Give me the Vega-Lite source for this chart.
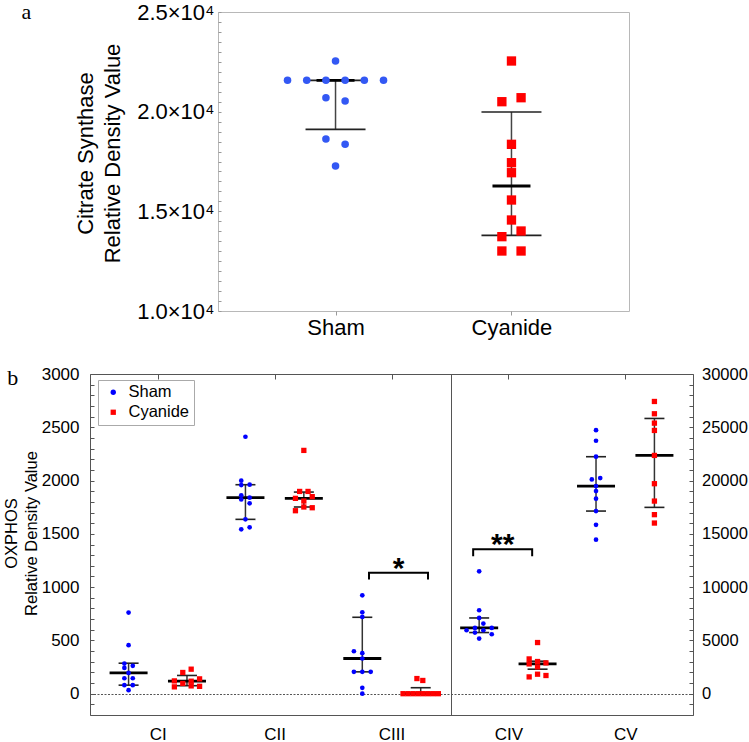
{
  "$schema": "https://vega.github.io/schema/vega-lite/v6.json",
  "padding": {"left": 2, "top": 0, "right": 0, "bottom": 0},
  "spacing": 25,
  "config": {
    "font": "Liberation Sans",
    "view": {"stroke": null},
    "axis": {"labelColor": "black", "titleColor": "black", "titleFontWeight": "normal", "grid": false, "domain": false, "labelOverlap": false, "labelFlush": false},
    "legend": {"orient": "none", "legendX": 8, "legendY": 6, "strokeColor": "#aaaaaa", "fillColor": "white", "padding": 4, "symbolOffset": 3, "labelOffset": 7, "labelFontSize": 16.5, "labelColor": "black", "rowPadding": 3, "symbolSize": 28, "symbolStrokeWidth": 0}
  },
  "resolve": {"scale": {"color": "independent", "shape": "independent"}},
  "datasets": {
    "cs": [
      {"group": "Sham", "v": 22542, "j": 0},
      {"group": "Sham", "v": 21573, "j": -5},
      {"group": "Sham", "v": 21573, "j": -3},
      {"group": "Sham", "v": 21573, "j": -1},
      {"group": "Sham", "v": 21573, "j": 1},
      {"group": "Sham", "v": 21573, "j": 3},
      {"group": "Sham", "v": 21573, "j": 5},
      {"group": "Sham", "v": 20700, "j": -1},
      {"group": "Sham", "v": 20535, "j": 1},
      {"group": "Sham", "v": 18628, "j": -1},
      {"group": "Sham", "v": 18362, "j": 1},
      {"group": "Sham", "v": 17274, "j": 0},
      {"group": "Cyanide", "v": 22542, "j": 0},
      {"group": "Cyanide", "v": 20500, "j": -1},
      {"group": "Cyanide", "v": 20700, "j": 1},
      {"group": "Cyanide", "v": 18362, "j": 0},
      {"group": "Cyanide", "v": 17440, "j": 0},
      {"group": "Cyanide", "v": 16938, "j": 0},
      {"group": "Cyanide", "v": 15568, "j": 0},
      {"group": "Cyanide", "v": 14565, "j": 0},
      {"group": "Cyanide", "v": 14013, "j": 1},
      {"group": "Cyanide", "v": 13729, "j": -1},
      {"group": "Cyanide", "v": 13010, "j": -1},
      {"group": "Cyanide", "v": 13010, "j": 1}
    ],
    "csstats": [
      {"group": "Sham", "med": 21573, "lo": 19115, "hi": 21573},
      {"group": "Cyanide", "med": 16270, "lo": 13797, "hi": 19983}
    ],
    "ox": [
      {"cat": "CI", "group": "Sham", "v": 761, "j": 0},
      {"cat": "CI", "group": "Sham", "v": 455, "j": 0},
      {"cat": "CI", "group": "Sham", "v": 283, "j": -1},
      {"cat": "CI", "group": "Sham", "v": 261, "j": 1},
      {"cat": "CI", "group": "Sham", "v": 242, "j": -1},
      {"cat": "CI", "group": "Sham", "v": 195, "j": 0},
      {"cat": "CI", "group": "Sham", "v": 145, "j": -1},
      {"cat": "CI", "group": "Sham", "v": 145, "j": 1},
      {"cat": "CI", "group": "Sham", "v": 80, "j": -1},
      {"cat": "CI", "group": "Sham", "v": 80, "j": 1},
      {"cat": "CI", "group": "Sham", "v": 33, "j": 0},
      {"cat": "CI", "group": "Cyanide", "v": 230, "j": 1},
      {"cat": "CI", "group": "Cyanide", "v": 199, "j": -1},
      {"cat": "CI", "group": "Cyanide", "v": 139, "j": 3},
      {"cat": "CI", "group": "Cyanide", "v": 120, "j": -3},
      {"cat": "CI", "group": "Cyanide", "v": 117, "j": 1},
      {"cat": "CI", "group": "Cyanide", "v": 96, "j": -1},
      {"cat": "CI", "group": "Cyanide", "v": 73, "j": 1},
      {"cat": "CI", "group": "Cyanide", "v": 69, "j": 3},
      {"cat": "CI", "group": "Cyanide", "v": 64, "j": -3},
      {"cat": "CII", "group": "Sham", "v": 2411, "j": 0},
      {"cat": "CII", "group": "Sham", "v": 1999, "j": -1},
      {"cat": "CII", "group": "Sham", "v": 1961, "j": 1},
      {"cat": "CII", "group": "Sham", "v": 1958, "j": -1},
      {"cat": "CII", "group": "Sham", "v": 1861, "j": -1},
      {"cat": "CII", "group": "Sham", "v": 1839, "j": 1},
      {"cat": "CII", "group": "Sham", "v": 1823, "j": -1},
      {"cat": "CII", "group": "Sham", "v": 1786, "j": 1},
      {"cat": "CII", "group": "Sham", "v": 1636, "j": 0},
      {"cat": "CII", "group": "Sham", "v": 1542, "j": -1},
      {"cat": "CII", "group": "Sham", "v": 1561, "j": 1},
      {"cat": "CII", "group": "Cyanide", "v": 2283, "j": 0},
      {"cat": "CII", "group": "Cyanide", "v": 1898, "j": -1},
      {"cat": "CII", "group": "Cyanide", "v": 1898, "j": 1},
      {"cat": "CII", "group": "Cyanide", "v": 1849, "j": 2},
      {"cat": "CII", "group": "Cyanide", "v": 1833, "j": -2},
      {"cat": "CII", "group": "Cyanide", "v": 1808, "j": 0},
      {"cat": "CII", "group": "Cyanide", "v": 1752, "j": 0},
      {"cat": "CII", "group": "Cyanide", "v": 1745, "j": 2},
      {"cat": "CII", "group": "Cyanide", "v": 1717, "j": -2},
      {"cat": "CIII", "group": "Sham", "v": 923, "j": 0},
      {"cat": "CIII", "group": "Sham", "v": 764, "j": 0},
      {"cat": "CIII", "group": "Sham", "v": 720, "j": 0},
      {"cat": "CIII", "group": "Sham", "v": 398, "j": -2},
      {"cat": "CIII", "group": "Sham", "v": 380, "j": 0},
      {"cat": "CIII", "group": "Sham", "v": 330, "j": 0},
      {"cat": "CIII", "group": "Sham", "v": 205, "j": -2},
      {"cat": "CIII", "group": "Sham", "v": 205, "j": 0},
      {"cat": "CIII", "group": "Sham", "v": 205, "j": 2},
      {"cat": "CIII", "group": "Sham", "v": 55, "j": 0},
      {"cat": "CIII", "group": "Sham", "v": 0, "j": 0},
      {"cat": "CIII", "group": "Cyanide", "v": 142, "j": -0.9},
      {"cat": "CIII", "group": "Cyanide", "v": 124, "j": 0.5},
      {"cat": "CIII", "group": "Cyanide", "v": 0, "j": -4.2},
      {"cat": "CIII", "group": "Cyanide", "v": 0, "j": -3},
      {"cat": "CIII", "group": "Cyanide", "v": 0, "j": -1.8},
      {"cat": "CIII", "group": "Cyanide", "v": 0, "j": -0.6},
      {"cat": "CIII", "group": "Cyanide", "v": 0, "j": 0.6},
      {"cat": "CIII", "group": "Cyanide", "v": 0, "j": 1.8},
      {"cat": "CIII", "group": "Cyanide", "v": 0, "j": 3},
      {"cat": "CIII", "group": "Cyanide", "v": 0, "j": 4.2},
      {"cat": "CIV", "group": "Sham", "v": 11484, "j": 0},
      {"cat": "CIV", "group": "Sham", "v": 7828, "j": 0},
      {"cat": "CIV", "group": "Sham", "v": 7106, "j": 0},
      {"cat": "CIV", "group": "Sham", "v": 6581, "j": 1},
      {"cat": "CIV", "group": "Sham", "v": 6169, "j": -1},
      {"cat": "CIV", "group": "Sham", "v": 6169, "j": 3},
      {"cat": "CIV", "group": "Sham", "v": 5953, "j": -3},
      {"cat": "CIV", "group": "Sham", "v": 5953, "j": 1},
      {"cat": "CIV", "group": "Sham", "v": 5738, "j": -1},
      {"cat": "CIV", "group": "Sham", "v": 5578, "j": 3},
      {"cat": "CIV", "group": "Sham", "v": 5175, "j": 0},
      {"cat": "CIV", "group": "Cyanide", "v": 4800, "j": 0},
      {"cat": "CIV", "group": "Cyanide", "v": 3262, "j": -2},
      {"cat": "CIV", "group": "Cyanide", "v": 3019, "j": 0},
      {"cat": "CIV", "group": "Cyanide", "v": 2888, "j": 2},
      {"cat": "CIV", "group": "Cyanide", "v": 2794, "j": -2},
      {"cat": "CIV", "group": "Cyanide", "v": 2513, "j": 0},
      {"cat": "CIV", "group": "Cyanide", "v": 1828, "j": 0},
      {"cat": "CIV", "group": "Cyanide", "v": 1575, "j": -2},
      {"cat": "CIV", "group": "Cyanide", "v": 1706, "j": 2},
      {"cat": "CV", "group": "Sham", "v": 24731, "j": 0},
      {"cat": "CV", "group": "Sham", "v": 23738, "j": 0},
      {"cat": "CV", "group": "Sham", "v": 22238, "j": 0},
      {"cat": "CV", "group": "Sham", "v": 20109, "j": -1},
      {"cat": "CV", "group": "Sham", "v": 20231, "j": 1},
      {"cat": "CV", "group": "Sham", "v": 19481, "j": 0},
      {"cat": "CV", "group": "Sham", "v": 19013, "j": 0},
      {"cat": "CV", "group": "Sham", "v": 18300, "j": 0},
      {"cat": "CV", "group": "Sham", "v": 17138, "j": 0},
      {"cat": "CV", "group": "Sham", "v": 15850, "j": 0},
      {"cat": "CV", "group": "Sham", "v": 14456, "j": 0},
      {"cat": "CV", "group": "Cyanide", "v": 27422, "j": 0},
      {"cat": "CV", "group": "Cyanide", "v": 26269, "j": 0},
      {"cat": "CV", "group": "Cyanide", "v": 25388, "j": 0},
      {"cat": "CV", "group": "Cyanide", "v": 24703, "j": 0},
      {"cat": "CV", "group": "Cyanide", "v": 22359, "j": 0},
      {"cat": "CV", "group": "Cyanide", "v": 19706, "j": 0},
      {"cat": "CV", "group": "Cyanide", "v": 18075, "j": 0},
      {"cat": "CV", "group": "Cyanide", "v": 16800, "j": 0},
      {"cat": "CV", "group": "Cyanide", "v": 16013, "j": 0}
    ],
    "oxstats": [
      {"cat": "CI", "group": "Sham", "med": 195, "lo": 80, "hi": 286},
      {"cat": "CI", "group": "Cyanide", "med": 117, "lo": 75, "hi": 171},
      {"cat": "CII", "group": "Sham", "med": 1839, "lo": 1636, "hi": 1961},
      {"cat": "CII", "group": "Cyanide", "med": 1833, "lo": 1752, "hi": 1892},
      {"cat": "CIII", "group": "Sham", "med": 330, "lo": 205, "hi": 717},
      {"cat": "CIII", "group": "Cyanide", "med": 0, "lo": 0, "hi": 56},
      {"cat": "CIV", "group": "Sham", "med": 6169, "lo": 5738, "hi": 7106},
      {"cat": "CIV", "group": "Cyanide", "med": 2794, "lo": 2300, "hi": 3050},
      {"cat": "CV", "group": "Sham", "med": 19481, "lo": 17138, "hi": 22238},
      {"cat": "CV", "group": "Cyanide", "med": 22359, "lo": 17484, "hi": 25828}
    ],
    "sig": [
      {"cat": "CIII", "y": 1136, "label": "*"},
      {"cat": "CIV", "y": 13547, "label": "**"}
    ],
    "ref": [
      {"cat": "CIII"}
    ],
    "none": []
  },
  "vconcat": [
    {
      "spacing": -17,
      "hconcat": [
        {
          "width": 1,
          "height": 299,
          "data": {"name": "none"},
          "mark": {"type": "point"},
          "title": {"text": "a", "orient": "left", "anchor": "end", "angle": 0, "font": "Liberation Serif", "fontSize": 22, "fontWeight": "normal", "align": "right", "baseline": "alphabetic", "offset": 49, "dy": 7, "color": "black"}
        },
        {
          "width": 411,
          "height": 299,
          "view": {"stroke": "#b8b8b8"},
          "encoding": {
            "x": {"field": "group", "type": "nominal", "scale": {"type": "point", "domain": ["Sham", "Cyanide"], "padding": 0.668},
              "axis": {"title": null, "labelFontSize": 22, "labelAngle": 0, "labelAlign": "center", "tickSize": 4, "tickColor": "#999999", "labelPadding": 2}}
          },
          "layer": [
            {
              "data": {"name": "csstats"},
              "mark": {"type": "rule", "color": "#444444", "strokeWidth": 1.5},
              "encoding": {
                "y": {"field": "lo", "type": "quantitative", "scale": {"domain": [10000, 25000], "nice": false, "zero": false},
                  "axis": {"orient": "left", "title": ["Citrate Synthase", "Relative Density Value"], "titleFontSize": 22, "titleLineHeight": 27, "titlePadding": 12, "titleY": 141,
                    "labelFontSize": 22, "ticks": false, "labelPadding": 4, "values": [10000, 15000, 20000, 25000],
                    "labelExpr": "format(datum.value / 10000, '.1f') + '×10⁴'"}},
                "y2": {"field": "hi"}
              }
            },
            {
              "data": {"name": "csstats"},
              "transform": [{"fold": ["lo", "hi"], "as": ["which", "val"]}],
              "mark": {"type": "point", "shape": "M-1,0H1", "size": 3600, "filled": false, "color": "#222222", "strokeWidth": 1.7, "opacity": 1},
              "encoding": {"y": {"field": "val", "type": "quantitative", "scale": {"domain": [10000, 25000], "nice": false, "zero": false},
                "axis": {"orient": "left", "title": null, "labels": false, "ticks": false, "grid": true, "gridDash": [3, 1000], "gridColor": "#999999", "gridWidth": 1,
                  "values": [10000, 10500, 11000, 11500, 12000, 12500, 13000, 13500, 14000, 14500, 15000, 15500, 16000, 16500, 17000, 17500, 18000, 18500, 19000, 19500, 20000, 20500, 21000, 21500, 22000, 22500, 23000, 23500, 24000, 24500, 25000]}}}
            },
            {
              "data": {"name": "csstats"},
              "mark": {"type": "point", "shape": "M-1,0H1", "size": 1444, "filled": false, "color": "black", "strokeWidth": 2.8, "opacity": 1},
              "encoding": {"y": {"field": "med", "type": "quantitative", "scale": {"domain": [10000, 25000], "nice": false, "zero": false}, "axis": null}}
            },
            {
              "data": {"name": "cs"},
              "transform": [{"filter": {"field": "group", "equal": "Sham"}}],
              "mark": {"type": "point", "shape": "circle", "filled": true, "size": 57, "color": "#3358f4", "opacity": 1, "strokeWidth": 0},
              "encoding": {
                "y": {"field": "v", "type": "quantitative", "scale": {"domain": [10000, 25000], "nice": false, "zero": false}, "axis": null},
                "xOffset": {"field": "j", "type": "quantitative", "scale": {"domain": [-5, 5], "range": [-48, 48]}}
              }
            },
            {
              "data": {"name": "cs"},
              "transform": [{"filter": {"field": "group", "equal": "Cyanide"}}],
              "mark": {"type": "point", "shape": "square", "filled": true, "size": 87, "color": "#ff0000", "opacity": 1, "strokeWidth": 0},
              "encoding": {
                "y": {"field": "v", "type": "quantitative", "scale": {"domain": [10000, 25000], "nice": false, "zero": false}, "axis": null},
                "xOffset": {"field": "j", "type": "quantitative", "scale": {"domain": [-5, 5], "range": [-48, 48]}}
              }
            }
          ],
          "resolve": {"scale": {"y": "independent"}}
        }
      ]
    },
    {
      "width": 603,
      "height": 341,
      "view": {"stroke": "#555555"},
      "title": {"text": "b", "orient": "top", "anchor": "start", "frame": "bounds", "font": "Liberation Serif", "fontSize": 22, "fontWeight": "normal", "offset": -25, "dx": 4, "color": "black"},
      "encoding": {
        "x": {"field": "cat", "type": "nominal", "scale": {"type": "point", "domain": ["CI", "CII", "CIII", "CIV", "CV"], "padding": 0.58},
          "axis": {"title": null, "labelFontSize": 17, "labelAngle": 0, "labelAlign": "center", "ticks": false, "grid": true, "gridDash": [5, 1000], "gridColor": "#555555", "labelPadding": 11}}
      },
      "layer": [
        {
          "data": {"name": "ref"},
          "mark": {"type": "rule", "color": "#555555", "strokeWidth": 1, "xOffset": 60}
        },
        {
          "data": {"name": "oxstats"},
          "transform": [{"filter": {"field": "cat", "oneOf": ["CI", "CII", "CIII"]}}, {"filter": {"field": "group", "equal": "Sham"}}],
          "mark": {"type": "rule", "color": "#333333", "strokeWidth": 1.5, "xOffset": -29.2},
          "encoding": {
            "y": {"field": "lo", "type": "quantitative", "scale": {"domain": [-200, 3000], "nice": false, "zero": false},
              "axis": {"orient": "left", "title": ["OXPHOS", "Relative Density Value"], "titleFontSize": 16.5, "titleLineHeight": 20, "titlePadding": 2, "titleY": 159,
                "labelFontSize": 17, "ticks": false, "labelPadding": 11, "values": [0, 500, 1000, 1500, 2000, 2500, 3000], "format": "d"}},
            "y2": {"field": "hi"}
          }
        },
        {
          "data": {"name": "oxstats"},
          "transform": [{"filter": {"field": "cat", "oneOf": ["CI", "CII", "CIII"]}}, {"filter": {"field": "group", "equal": "Cyanide"}}],
          "mark": {"type": "rule", "color": "#333333", "strokeWidth": 1.5, "xOffset": 29.2},
          "encoding": {
            "y": {"field": "lo", "type": "quantitative", "scale": {"domain": [-200, 3000], "nice": false, "zero": false},
              "axis": {"orient": "left", "title": null, "labels": false, "ticks": false, "grid": true, "gridDash": [4, 1000], "gridColor": "#555555", "gridWidth": 1,
                "values": [-200, -100, 0, 100, 200, 300, 400, 500, 600, 700, 800, 900, 1000, 1100, 1200, 1300, 1400, 1500, 1600, 1700, 1800, 1900, 2000, 2100, 2200, 2300, 2400, 2500, 2600, 2700, 2800, 2900, 3000]}},
            "y2": {"field": "hi"}
          }
        },
        {
          "data": {"name": "oxstats"},
          "transform": [{"filter": {"field": "cat", "oneOf": ["CI", "CII", "CIII"]}}, {"filter": {"field": "group", "equal": "Sham"}}, {"fold": ["lo", "hi"], "as": ["which", "val"]}],
          "mark": {"type": "point", "shape": "M-1,0H1", "size": 400, "filled": false, "color": "#222222", "strokeWidth": 1.6, "opacity": 1, "xOffset": -29.2},
          "encoding": {"y": {"field": "val", "type": "quantitative", "scale": {"domain": [-200, 3000], "nice": false, "zero": false},
            "axis": {"orient": "left", "title": null, "labels": false, "ticks": false, "grid": true, "gridDash": [2, 1.5], "gridColor": "#555555", "gridWidth": 1.2, "values": [0]}}}
        },
        {
          "data": {"name": "oxstats"},
          "transform": [{"filter": {"field": "cat", "oneOf": ["CI", "CII", "CIII"]}}, {"filter": {"field": "group", "equal": "Cyanide"}}, {"fold": ["lo", "hi"], "as": ["which", "val"]}],
          "mark": {"type": "point", "shape": "M-1,0H1", "size": 400, "filled": false, "color": "#222222", "strokeWidth": 1.6, "opacity": 1, "xOffset": 29.2},
          "encoding": {"y": {"field": "val", "type": "quantitative", "scale": {"domain": [-200, 3000], "nice": false, "zero": false}, "axis": null}}
        },
        {
          "data": {"name": "oxstats"},
          "transform": [{"filter": {"field": "cat", "oneOf": ["CI", "CII", "CIII"]}}, {"filter": {"field": "group", "equal": "Sham"}}],
          "mark": {"type": "point", "shape": "M-1,0H1", "size": 1444, "filled": false, "color": "black", "strokeWidth": 2.8, "opacity": 1, "xOffset": -29.2},
          "encoding": {"y": {"field": "med", "type": "quantitative", "scale": {"domain": [-200, 3000], "nice": false, "zero": false}, "axis": null}}
        },
        {
          "data": {"name": "oxstats"},
          "transform": [{"filter": {"field": "cat", "oneOf": ["CI", "CII", "CIII"]}}, {"filter": {"field": "group", "equal": "Cyanide"}}],
          "mark": {"type": "point", "shape": "M-1,0H1", "size": 1444, "filled": false, "color": "black", "strokeWidth": 2.8, "opacity": 1, "xOffset": 29.2},
          "encoding": {"y": {"field": "med", "type": "quantitative", "scale": {"domain": [-200, 3000], "nice": false, "zero": false}, "axis": null}}
        },
        {
          "data": {"name": "ox"},
          "transform": [{"filter": {"field": "cat", "oneOf": ["CI", "CII", "CIII"]}}, {"filter": {"field": "group", "equal": "Sham"}}],
          "mark": {"type": "point", "filled": true, "size": 22, "opacity": 1, "strokeWidth": 0},
          "encoding": {
            "y": {"field": "v", "type": "quantitative", "scale": {"domain": [-200, 3000], "nice": false, "zero": false}, "axis": null},
            "xOffset": {"field": "j", "type": "quantitative", "scale": {"domain": [-5, 5], "range": [-50.2, -8.2]}},
            "color": {"field": "group", "type": "nominal", "scale": {"domain": ["Sham", "Cyanide"], "range": ["#0000ff", "#ff0000"]}, "legend": {"title": null}},
            "shape": {"field": "group", "type": "nominal", "scale": {"domain": ["Sham", "Cyanide"], "range": ["circle", "square"]}, "legend": {"title": null}}
          }
        },
        {
          "data": {"name": "ox"},
          "transform": [{"filter": {"field": "cat", "oneOf": ["CI", "CII", "CIII"]}}, {"filter": {"field": "group", "equal": "Cyanide"}}],
          "mark": {"type": "point", "filled": true, "size": 28, "opacity": 1, "strokeWidth": 0},
          "encoding": {
            "y": {"field": "v", "type": "quantitative", "scale": {"domain": [-200, 3000], "nice": false, "zero": false}, "axis": null},
            "xOffset": {"field": "j", "type": "quantitative", "scale": {"domain": [-5, 5], "range": [8.2, 50.2]}},
            "color": {"field": "group", "type": "nominal", "scale": {"domain": ["Sham", "Cyanide"], "range": ["#0000ff", "#ff0000"]}, "legend": {"title": null}},
            "shape": {"field": "group", "type": "nominal", "scale": {"domain": ["Sham", "Cyanide"], "range": ["circle", "square"]}, "legend": {"title": null}}
          }
        },
        {
          "data": {"name": "oxstats"},
          "transform": [{"filter": {"field": "cat", "oneOf": ["CIV", "CV"]}}, {"filter": {"field": "group", "equal": "Sham"}}],
          "mark": {"type": "rule", "color": "#333333", "strokeWidth": 1.5, "xOffset": -29.2},
          "encoding": {
            "y": {"field": "lo", "type": "quantitative", "scale": {"domain": [-2000, 30000], "nice": false, "zero": false},
              "axis": {"orient": "right", "title": null, "labelFontSize": 16.5, "ticks": false, "labelPadding": 8.5, "values": [0, 5000, 10000, 15000, 20000, 25000, 30000], "format": "d"}},
            "y2": {"field": "hi"}
          }
        },
        {
          "data": {"name": "oxstats"},
          "transform": [{"filter": {"field": "cat", "oneOf": ["CIV", "CV"]}}, {"filter": {"field": "group", "equal": "Cyanide"}}],
          "mark": {"type": "rule", "color": "#333333", "strokeWidth": 1.5, "xOffset": 29.2},
          "encoding": {
            "y": {"field": "lo", "type": "quantitative", "scale": {"domain": [-2000, 30000], "nice": false, "zero": false},
              "axis": {"orient": "right", "title": null, "labels": false, "ticks": false, "grid": true, "gridDash": [4, 1000], "gridColor": "#555555", "gridWidth": 1,
                "values": [-2000, -1000, 0, 1000, 2000, 3000, 4000, 5000, 6000, 7000, 8000, 9000, 10000, 11000, 12000, 13000, 14000, 15000, 16000, 17000, 18000, 19000, 20000, 21000, 22000, 23000, 24000, 25000, 26000, 27000, 28000, 29000, 30000]}},
            "y2": {"field": "hi"}
          }
        },
        {
          "data": {"name": "oxstats"},
          "transform": [{"filter": {"field": "cat", "oneOf": ["CIV", "CV"]}}, {"filter": {"field": "group", "equal": "Sham"}}, {"fold": ["lo", "hi"], "as": ["which", "val"]}],
          "mark": {"type": "point", "shape": "M-1,0H1", "size": 400, "filled": false, "color": "#222222", "strokeWidth": 1.6, "opacity": 1, "xOffset": -29.2},
          "encoding": {"y": {"field": "val", "type": "quantitative", "scale": {"domain": [-2000, 30000], "nice": false, "zero": false}, "axis": null}}
        },
        {
          "data": {"name": "oxstats"},
          "transform": [{"filter": {"field": "cat", "oneOf": ["CIV", "CV"]}}, {"filter": {"field": "group", "equal": "Cyanide"}}, {"fold": ["lo", "hi"], "as": ["which", "val"]}],
          "mark": {"type": "point", "shape": "M-1,0H1", "size": 400, "filled": false, "color": "#222222", "strokeWidth": 1.6, "opacity": 1, "xOffset": 29.2},
          "encoding": {"y": {"field": "val", "type": "quantitative", "scale": {"domain": [-2000, 30000], "nice": false, "zero": false}, "axis": null}}
        },
        {
          "data": {"name": "oxstats"},
          "transform": [{"filter": {"field": "cat", "oneOf": ["CIV", "CV"]}}, {"filter": {"field": "group", "equal": "Sham"}}],
          "mark": {"type": "point", "shape": "M-1,0H1", "size": 1444, "filled": false, "color": "black", "strokeWidth": 2.8, "opacity": 1, "xOffset": -29.2},
          "encoding": {"y": {"field": "med", "type": "quantitative", "scale": {"domain": [-2000, 30000], "nice": false, "zero": false}, "axis": null}}
        },
        {
          "data": {"name": "oxstats"},
          "transform": [{"filter": {"field": "cat", "oneOf": ["CIV", "CV"]}}, {"filter": {"field": "group", "equal": "Cyanide"}}],
          "mark": {"type": "point", "shape": "M-1,0H1", "size": 1444, "filled": false, "color": "black", "strokeWidth": 2.8, "opacity": 1, "xOffset": 29.2},
          "encoding": {"y": {"field": "med", "type": "quantitative", "scale": {"domain": [-2000, 30000], "nice": false, "zero": false}, "axis": null}}
        },
        {
          "data": {"name": "ox"},
          "transform": [{"filter": {"field": "cat", "oneOf": ["CIV", "CV"]}}, {"filter": {"field": "group", "equal": "Sham"}}],
          "mark": {"type": "point", "filled": true, "size": 22, "opacity": 1, "strokeWidth": 0},
          "encoding": {
            "y": {"field": "v", "type": "quantitative", "scale": {"domain": [-2000, 30000], "nice": false, "zero": false}, "axis": null},
            "xOffset": {"field": "j", "type": "quantitative", "scale": {"domain": [-5, 5], "range": [-50.2, -8.2]}},
            "color": {"field": "group", "type": "nominal", "scale": {"domain": ["Sham", "Cyanide"], "range": ["#0000ff", "#ff0000"]}, "legend": {"title": null}},
            "shape": {"field": "group", "type": "nominal", "scale": {"domain": ["Sham", "Cyanide"], "range": ["circle", "square"]}, "legend": {"title": null}}
          }
        },
        {
          "data": {"name": "ox"},
          "transform": [{"filter": {"field": "cat", "oneOf": ["CIV", "CV"]}}, {"filter": {"field": "group", "equal": "Cyanide"}}],
          "mark": {"type": "point", "filled": true, "size": 28, "opacity": 1, "strokeWidth": 0},
          "encoding": {
            "y": {"field": "v", "type": "quantitative", "scale": {"domain": [-2000, 30000], "nice": false, "zero": false}, "axis": null},
            "xOffset": {"field": "j", "type": "quantitative", "scale": {"domain": [-5, 5], "range": [8.2, 50.2]}},
            "color": {"field": "group", "type": "nominal", "scale": {"domain": ["Sham", "Cyanide"], "range": ["#0000ff", "#ff0000"]}, "legend": {"title": null}},
            "shape": {"field": "group", "type": "nominal", "scale": {"domain": ["Sham", "Cyanide"], "range": ["circle", "square"]}, "legend": {"title": null}}
          }
        },
        {
          "data": {"name": "sig"},
          "transform": [{"filter": {"field": "cat", "equal": "CIII"}}],
          "mark": {"type": "point", "shape": "M-1,0.237V0H1V0.237", "size": 3481, "filled": false, "color": "black", "strokeWidth": 2, "opacity": 1, "xOffset": 7},
          "encoding": {"y": {"field": "y", "type": "quantitative", "scale": {"domain": [-200, 3000], "nice": false, "zero": false}, "axis": null}}
        },
        {
          "data": {"name": "sig"},
          "transform": [{"filter": {"field": "cat", "equal": "CIV"}}],
          "mark": {"type": "point", "shape": "M-1,0.237V0H1V0.237", "size": 3481, "filled": false, "color": "black", "strokeWidth": 2, "opacity": 1, "xOffset": -5.7},
          "encoding": {"y": {"field": "y", "type": "quantitative", "scale": {"domain": [-2000, 30000], "nice": false, "zero": false}, "axis": null}}
        },
        {
          "data": {"name": "sig"},
          "transform": [{"filter": {"field": "cat", "equal": "CIII"}}],
          "mark": {"type": "text", "fontSize": 30, "fontWeight": "bold", "baseline": "alphabetic", "align": "center", "dy": 5, "xOffset": 7, "color": "black"},
          "encoding": {"y": {"field": "y", "type": "quantitative", "scale": {"domain": [-200, 3000], "nice": false, "zero": false}, "axis": null}, "text": {"field": "label"}}
        },
        {
          "data": {"name": "sig"},
          "transform": [{"filter": {"field": "cat", "equal": "CIV"}}],
          "mark": {"type": "text", "fontSize": 30, "fontWeight": "bold", "baseline": "alphabetic", "align": "center", "dy": 5, "xOffset": -5.7, "color": "black"},
          "encoding": {"y": {"field": "y", "type": "quantitative", "scale": {"domain": [-2000, 30000], "nice": false, "zero": false}, "axis": null}, "text": {"field": "label"}}
        }
      ],
      "resolve": {"scale": {"y": "independent", "xOffset": "independent"}}
    }
  ]
}
